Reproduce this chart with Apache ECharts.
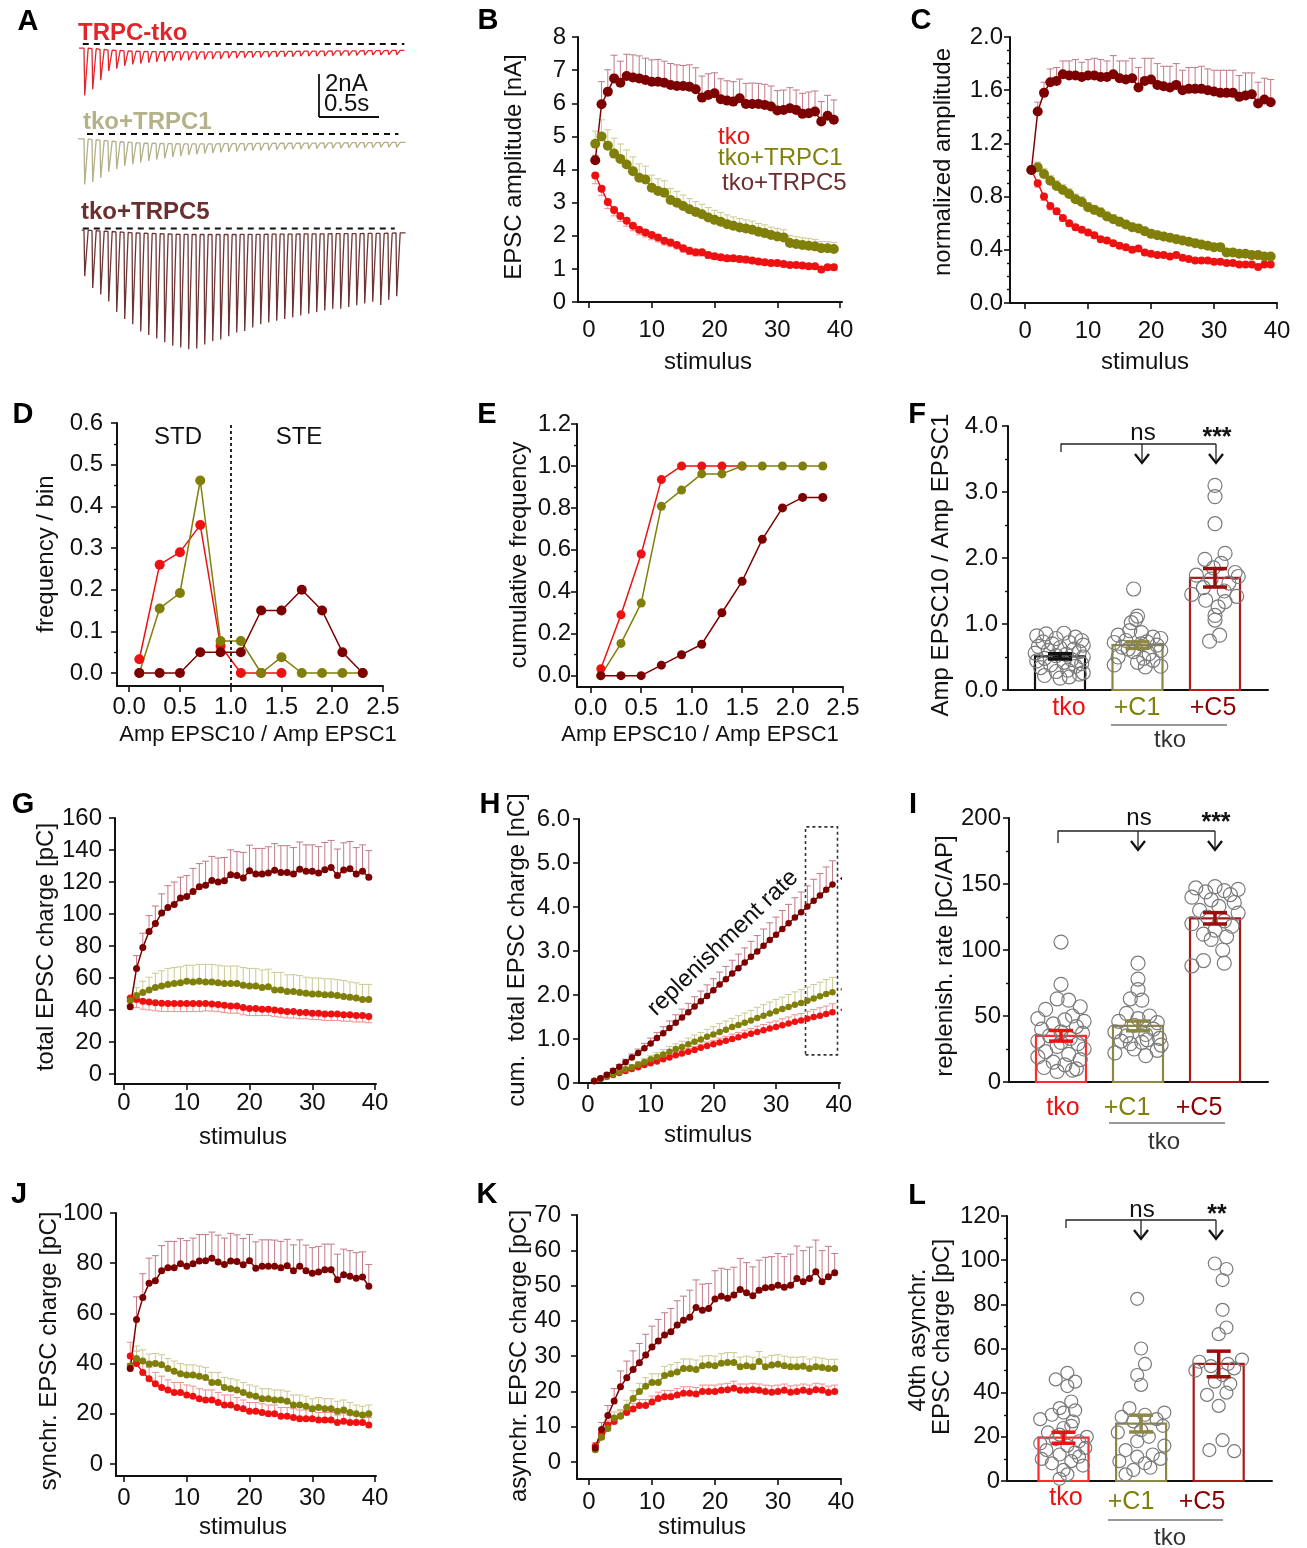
<!DOCTYPE html>
<html>
<head>
<meta charset="utf-8">
<script src="https://cdn.jsdelivr.net/npm/echarts@6/dist/echarts.min.js"></script>
<style>
html, body { margin: 0; padding: 0; background: #fff; }
#main { width: 1307px; height: 1548px; }
</style>
</head>
<body>
<div id="main"></div>
<script>
// stimulus numbers
const stimulus = [1,2,3,4,5,6,7,8,9,10,11,12,13,14,15,16,17,18,19,20,21,22,23,24,25,26,27,28,29,30,31,32,33,34,35,36,37,38,39];

// A: example traces, peak amplitude and baseline per stimulus [nA]
const aTkoAmp = [2.2,1.88,1.43,0.98,0.85,0.7,0.62,0.57,0.52,0.48,0.45,0.42,0.4,0.38,0.36,0.35,0.33,0.32,0.3,0.3,0.28,0.28,0.27,0.26,0.26,0.25,0.25,0.24,0.24,0.23,0.23,0.22,0.22,0.22,0.21,0.21,0.2,0.2,0.2,0.2];
const aTkoBase = [-0.19,-0.22,-0.25,-0.28,-0.3,-0.32,-0.33,-0.34,-0.35,-0.35,-0.36,-0.36,-0.37,-0.37,-0.37,-0.37,-0.37,-0.37,-0.36,-0.36,-0.36,-0.35,-0.35,-0.35,-0.34,-0.34,-0.34,-0.33,-0.33,-0.33,-0.33,-0.32,-0.32,-0.32,-0.32,-0.31,-0.31,-0.31,-0.3,-0.3];
const aC1Amp = [2.12,1.97,1.74,1.43,1.27,1.1,1.0,0.9,0.82,0.75,0.68,0.62,0.57,0.52,0.48,0.45,0.42,0.4,0.38,0.36,0.34,0.33,0.32,0.31,0.3,0.29,0.28,0.28,0.27,0.26,0.26,0.25,0.25,0.24,0.24,0.23,0.23,0.22,0.22,0.22];
const aC1Base = [-0.23,-0.26,-0.3,-0.33,-0.36,-0.38,-0.4,-0.42,-0.43,-0.44,-0.45,-0.45,-0.46,-0.46,-0.46,-0.46,-0.46,-0.45,-0.45,-0.45,-0.45,-0.44,-0.44,-0.44,-0.43,-0.43,-0.43,-0.42,-0.42,-0.42,-0.41,-0.41,-0.41,-0.4,-0.4,-0.4,-0.4,-0.39,-0.39,-0.39];
const aC5Amp = [2.14,2.67,2.95,3.26,3.72,4.03,4.26,4.57,4.73,4.88,5.04,5.19,5.27,5.35,5.3,5.12,4.96,4.88,4.73,4.57,4.5,4.34,4.19,4.11,4.03,3.95,3.88,3.8,3.72,3.64,3.57,3.49,3.49,3.41,3.33,3.26,3.18,3.33,3.1,2.95];
const aC5Base = [-0.08,-0.1,-0.12,-0.14,-0.16,-0.18,-0.2,-0.22,-0.23,-0.24,-0.25,-0.26,-0.27,-0.27,-0.28,-0.28,-0.28,-0.28,-0.28,-0.27,-0.27,-0.27,-0.27,-0.26,-0.26,-0.26,-0.26,-0.25,-0.25,-0.25,-0.25,-0.24,-0.24,-0.24,-0.24,-0.23,-0.23,-0.23,-0.22,-0.2];
const aTkoDash = [0.04, 2.72];
const aC1Dash = [0.075, 2.67];
const aC5Dash = [0.04, 2.64];
const aFirstStim = 0.05;      // s
const aStimInterval = 1 / 15; // s

// B: EPSC amplitude [nA]
const bTko = [3.82,3.42,3.02,2.78,2.6,2.45,2.3,2.18,2.1,2.02,1.95,1.85,1.8,1.72,1.62,1.55,1.5,1.5,1.42,1.38,1.35,1.32,1.32,1.3,1.28,1.25,1.22,1.2,1.18,1.18,1.15,1.12,1.12,1.1,1.08,1.08,0.98,1.05,1.05];
const bTkoErr = [0.25,0.2,0.2,0.18,0.17,0.16,0.15,0.15,0.14,0.14,0.14,0.13,0.13,0.12,0.12,0.12,0.11,0.11,0.11,0.1,0.1,0.1,0.1,0.1,0.1,0.09,0.09,0.09,0.09,0.09,0.09,0.08,0.08,0.08,0.08,0.08,0.08,0.08,0.08];
const bC1 = [4.78,5.0,4.72,4.48,4.32,4.15,3.95,3.75,3.7,3.45,3.35,3.3,3.08,3.0,2.9,2.8,2.72,2.65,2.55,2.48,2.42,2.35,2.3,2.25,2.22,2.18,2.12,2.08,2.02,1.98,1.95,1.78,1.75,1.72,1.7,1.68,1.62,1.62,1.6];
const bC1Err = [0.38,0.5,0.48,0.47,0.45,0.44,0.43,0.42,0.4,0.38,0.37,0.36,0.35,0.34,0.33,0.32,0.31,0.3,0.3,0.29,0.28,0.28,0.27,0.27,0.26,0.26,0.25,0.25,0.24,0.24,0.23,0.23,0.22,0.22,0.22,0.21,0.21,0.2,0.2];
const bC5 = [4.28,5.97,6.35,6.75,6.62,6.82,6.78,6.75,6.7,6.65,6.65,6.62,6.55,6.52,6.52,6.5,6.42,6.17,6.25,6.3,6.12,6.08,6.05,6.15,5.98,5.98,5.98,5.95,5.9,5.78,5.8,5.85,5.8,5.68,5.7,5.75,5.45,5.62,5.5];
const bC5Err = [0.15,0.68,0.66,0.7,0.65,0.66,0.68,0.68,0.66,0.66,0.67,0.65,0.65,0.64,0.62,0.66,0.65,0.65,0.64,0.62,0.62,0.6,0.6,0.58,0.62,0.63,0.62,0.62,0.62,0.6,0.6,0.62,0.6,0.62,0.64,0.62,0.6,0.62,0.6];

// C: normalized amplitude
const cTko = [1.0,0.9,0.8,0.73,0.69,0.64,0.6,0.57,0.55,0.53,0.51,0.48,0.47,0.45,0.43,0.42,0.4,0.41,0.38,0.37,0.36,0.36,0.35,0.36,0.34,0.33,0.32,0.32,0.32,0.31,0.31,0.3,0.3,0.29,0.29,0.29,0.27,0.29,0.29];
const cTkoErr = [0,0.03,0.03,0.03,0.025,0.025,0.025,0.02,0.02,0.02,0.02,0.02,0.02,0.02,0.02,0.02,0.02,0.02,0.02,0.02,0.015,0.015,0.015,0.015,0.015,0.015,0.015,0.015,0.015,0.015,0.015,0.015,0.015,0.015,0.015,0.015,0.015,0.015,0.015];
const cC1 = [1.0,1.02,0.97,0.92,0.88,0.85,0.82,0.78,0.76,0.72,0.7,0.68,0.65,0.63,0.61,0.59,0.57,0.56,0.54,0.52,0.51,0.5,0.49,0.48,0.47,0.46,0.45,0.44,0.43,0.42,0.42,0.38,0.38,0.37,0.37,0.36,0.36,0.35,0.35];
const cC1Err = [0,0.04,0.04,0.04,0.04,0.04,0.04,0.04,0.04,0.035,0.035,0.035,0.035,0.035,0.035,0.03,0.03,0.03,0.03,0.03,0.03,0.03,0.03,0.03,0.025,0.025,0.025,0.025,0.025,0.025,0.025,0.025,0.025,0.025,0.025,0.025,0.02,0.02,0.02];
const cC5 = [1.0,1.44,1.58,1.66,1.67,1.72,1.71,1.71,1.7,1.71,1.71,1.7,1.7,1.72,1.69,1.68,1.69,1.62,1.67,1.68,1.64,1.63,1.62,1.64,1.6,1.61,1.61,1.61,1.6,1.59,1.58,1.58,1.58,1.55,1.56,1.57,1.5,1.53,1.51];
const cC5Err = [0,0.07,0.08,0.1,0.1,0.1,0.11,0.12,0.11,0.12,0.13,0.13,0.12,0.14,0.13,0.14,0.15,0.15,0.17,0.16,0.16,0.15,0.16,0.16,0.15,0.16,0.16,0.17,0.16,0.16,0.17,0.17,0.17,0.16,0.17,0.16,0.16,0.16,0.17];

// D, E: histogram and cumulative frequency of Amp EPSC10 / Amp EPSC1
const binsTko = [0.1,0.3,0.5,0.7,0.9,1.1,1.3,1.5];
const binsAll = [0.1,0.3,0.5,0.7,0.9,1.1,1.3,1.5,1.7,1.9,2.1,2.3];
const dTko = [0.033,0.26,0.29,0.355,0.065,0,0,0];
const dC1 = [0,0.155,0.192,0.462,0.077,0.077,0,0.038,0,0,0,0];
const dC5 = [0,0,0,0.05,0.05,0.05,0.15,0.15,0.2,0.15,0.05,0];
const dDivider = 1.0;
const dMinorTicks = [0.05,0.15,0.25,0.35,0.45,0.55];
const eTko = [0.033,0.29,0.58,0.935,1,1,1,1];
const eC1 = [0,0.154,0.346,0.808,0.885,0.962,0.962,1,1,1,1,1];
const eC5 = [0,0,0,0.05,0.1,0.15,0.3,0.45,0.65,0.8,0.85,0.85];
const eMinorTicks = [0.1,0.3,0.5,0.7,0.9,1.1];

// F: Amp EPSC10 / Amp EPSC1 per cell
const fMean = [0.51, 0.68, 1.70];
const fSem = [0.04, 0.05, 0.14];
const fTkoVals = [0.85,0.86,0.82,0.8,0.78,0.75,0.73,0.72,0.7,0.68,0.66,0.64,0.62,0.6,0.58,0.56,0.54,0.52,0.5,0.48,0.46,0.44,0.42,0.4,0.38,0.36,0.34,0.3,0.28,0.26,0.22,0.2,0.18,0.24];
const fTkoJit = [-0.18,0.05,-0.3,0.2,-0.05,0.28,-0.22,0.12,-0.1,0.3,-0.28,0.0,0.18,-0.15,0.25,-0.32,0.08,-0.05,0.3,-0.2,0.15,-0.3,0.05,0.28,-0.12,0.2,-0.25,0.1,-0.05,0.3,-0.2,0.12,0.0,0.25];
const fC1Vals = [1.53,1.12,1.07,1.02,0.9,0.87,0.83,0.8,0.78,0.75,0.73,0.72,0.7,0.68,0.65,0.6,0.58,0.55,0.5,0.45,0.42,0.38,0.36,0.35,0.62,0.48];
const fC1Jit = [-0.05,0.0,-0.02,-0.08,-0.1,0.05,-0.25,0.2,0.3,-0.15,0.12,-0.3,0.05,0.25,-0.2,0.3,-0.05,0.15,-0.25,0.2,0.0,-0.3,0.3,0.1,-0.12,0.08];
const fC5Vals = [3.1,2.93,2.52,2.07,1.98,1.92,1.78,1.74,1.72,1.68,1.62,1.55,1.5,1.45,1.36,1.34,1.26,1.13,1.06,0.83,0.74,1.85,1.42];
const fC5Jit = [0.0,0.0,0.0,0.13,-0.13,0.08,0.26,-0.24,0.3,-0.05,0.18,-0.15,0.12,-0.3,-0.12,0.13,0.04,0.0,0.0,0.06,-0.07,-0.02,0.28];

// G: total EPSC charge [pC]
const gTko = [47.5,46.5,45.5,45,44.5,44.2,44,44,44,44,44,44,44,43.8,43.5,43,42.5,42.5,41.5,41,41,40.5,40.5,40,39.5,39,39,38.5,38.5,38,38,37.5,37.5,37.5,37,37,36.5,36.5,36];
const gTkoErr = [2,5,5,5,5,5,5,5,5,5,5,5,4.5,4.5,4.5,4.5,4.5,4.5,4.5,4.5,4.5,4,4,4,4,4,4,4,4,4,4,4,4,4,4,4,4,4,4];
const gC1 = [46,49,51,52.5,54,55,56,56.5,57,58,57.5,58,57.5,57.5,57,56.5,56.5,56.5,55.5,55,55,54,54.5,52.5,52.5,51.5,51.5,51,50.5,50,50,49.5,49.5,49,48.5,48,47.5,46.5,46.5];
const gC1Err = [2,5,7,8,9,9.5,10,10,10,10,10.5,10.5,11,11,11,11,11,11,11,11,11,11,11,11,11,10.5,10.5,10.5,10,10,10,10,10,10,10,9.5,9.5,9.5,9.5];
const gC5 = [42,66,79,89,94,100.6,104,106,110,111,114,117,118,121,120,120.8,124.6,124,122.5,127,125,125,125.6,127.3,126,126,125,128,126.7,126.7,125.6,127.7,129,124,127.5,128.3,125,126.7,123];
const gC5Err = [1,8,9,10,11,12,13.7,14,13,13,14.5,14.5,15,15,15,14.5,15.5,15,16,16,16,16,16.4,16.7,16.7,16.7,16.5,17,16.5,16.5,16.5,17,17,16.6,17,17,16.5,16.5,16.6];

// H: cumulative total EPSC charge [nC]
const hTko = [0.05,0.09,0.14,0.18,0.23,0.27,0.32,0.36,0.41,0.45,0.49,0.54,0.58,0.63,0.67,0.71,0.75,0.8,0.84,0.88,0.92,0.96,1.0,1.04,1.08,1.12,1.16,1.2,1.24,1.27,1.31,1.35,1.39,1.42,1.46,1.5,1.53,1.57,1.61];
const hTkoErr = [0.01,0.01,0.02,0.02,0.03,0.03,0.03,0.04,0.04,0.05,0.05,0.06,0.06,0.07,0.07,0.08,0.08,0.08,0.09,0.09,0.1,0.1,0.11,0.11,0.12,0.12,0.13,0.13,0.14,0.14,0.15,0.15,0.16,0.16,0.17,0.17,0.18,0.18,0.19];
const hC1 = [0.05,0.1,0.15,0.2,0.25,0.31,0.36,0.42,0.48,0.54,0.59,0.65,0.71,0.77,0.82,0.88,0.94,0.99,1.05,1.1,1.16,1.21,1.27,1.32,1.37,1.42,1.48,1.53,1.58,1.63,1.68,1.73,1.78,1.82,1.87,1.92,1.97,2.02,2.06];
const hC1Err = [0.01,0.02,0.03,0.04,0.04,0.05,0.06,0.07,0.08,0.09,0.1,0.11,0.12,0.12,0.13,0.14,0.15,0.16,0.17,0.18,0.19,0.2,0.2,0.21,0.22,0.23,0.24,0.25,0.26,0.27,0.27,0.28,0.29,0.3,0.31,0.32,0.32,0.33,0.34];
const hC5 = [0.04,0.11,0.19,0.28,0.37,0.47,0.58,0.68,0.79,0.9,1.02,1.13,1.25,1.37,1.49,1.61,1.74,1.86,1.98,2.11,2.24,2.36,2.49,2.61,2.74,2.87,2.99,3.12,3.25,3.37,3.5,3.63,3.76,3.88,4.01,4.14,4.26,4.39,4.51];
const hC5Err = [0.01,0.02,0.03,0.04,0.05,0.07,0.08,0.09,0.11,0.12,0.13,0.15,0.16,0.18,0.19,0.2,0.22,0.23,0.25,0.26,0.28,0.29,0.3,0.32,0.33,0.35,0.36,0.38,0.39,0.4,0.42,0.43,0.45,0.46,0.47,0.49,0.5,0.52,0.54];
const hTkoFit = [[40.3,1.66],[43.7,1.8]];
const hC1Fit = [[40.3,2.12],[43.9,2.33]];
const hC5Fit = [[40.3,4.63],[43.2,5.0]];
const hBox = [34.7, 0.64, 39.8, 5.82];

// I: replenishment rate [pC/AP]
const iMean = [35, 42.5, 124];
const iSem = [4, 3.7, 4.3];
const iTkoVals = [106,74,63,62,57,55,50,48,47,46,44,42,40,38,37,35,33,31,29,27,25,23,21,19,17,15,13,11,9,8,10,30];
const iTkoJit = [0.0,0.0,-0.05,0.1,0.25,-0.2,0.15,-0.3,0.05,0.3,-0.1,0.2,-0.25,0.0,0.28,-0.15,0.12,-0.3,0.22,-0.05,0.3,-0.2,0.1,-0.3,0.25,-0.1,0.05,-0.22,0.15,-0.05,0.2,0.0];
const iC1Vals = [90,78,70,63,62,52,50,48,46,45,43,40,38,36,35,33,31,30,28,25,22,20,24,29,32];
const iC1Jit = [0.0,0.0,0.0,-0.1,0.05,-0.15,0.15,0.0,-0.25,0.25,-0.05,0.2,-0.3,0.1,-0.15,0.28,-0.22,0.05,0.3,-0.05,-0.3,0.1,0.25,-0.1,0.12];
const iC5Vals = [148,147,146,144,145,142,140,138,136,133,130,128,125,122,120,118,115,112,110,108,100,92,90,88];
const iC5Jit = [0.0,-0.25,0.3,-0.12,0.12,0.2,-0.3,-0.05,0.25,0.05,-0.2,0.3,-0.1,0.12,-0.3,0.22,0.0,-0.15,0.15,-0.05,0.1,-0.15,0.12,-0.3];

// J: synchronous EPSC charge [pC]
const jTko = [43,40,36.5,34,32,30.5,29.5,28.5,28.5,27.5,27,26,25.5,25.5,24.5,23.5,23.5,22.5,22,21,21,20.5,20,20,19,19,18.5,18,18,18,17.5,17.5,17.5,16.5,17,16.5,16.5,16.5,15.5];
const jTkoErr = [5.5,5,5,4.5,4.5,4.5,4,4,4,4,4,4,4,4,4,4,4,4,3.5,3.5,3.5,3.5,3.5,3.5,3.5,3.5,3.5,3.5,3.5,3,3,3,3,3,3,3,3,3,3];
const jC1 = [39,42,41,39.8,40,39.5,38,37,36,35.5,35.5,35,34.5,32.5,32.5,30.5,30,29.5,28.5,27.5,27,26,26,25.5,25.5,25,23.5,23.5,23,22,22.5,22,22,21,21.5,20.5,20,19.5,20];
const jC1Err = [4,5,4.5,4,4,4,4,4,4,4,4,4,4,4,4,4,4,4,4,4,4,4,4,4,4,4,4,4,4,4,4,4,4,4,4,4,3.5,3.5,3.5];
const jC5 = [38,57.6,66.3,72,73,77,78.2,78.2,79.8,78.8,79.8,80.9,81,82,80.5,79.5,80.9,80.7,79.4,81,78,78.8,78.8,78.8,78.2,79,77,78.8,77,76,76.5,77.4,77.4,73.4,75.4,74.8,74,74.5,70.8];
const jC5Err = [2,9,9.5,10,10,10,10.5,10.5,10,10.2,10.2,10.5,10.4,10.4,10.7,10.5,11,10.6,10.5,10.4,10.5,10.5,10.5,10.4,10.5,10.5,10.3,10.5,10.2,10.2,10.2,10.2,10.2,10.2,10.2,10.2,10.2,10,8.7];

// K: asynchronous EPSC charge [pC]
const kTko = [4.5,8,10.5,11.5,13,14,15,16,16,17,18,18.5,18.5,19,19.5,19.5,19.3,20,20,20,20.3,20.5,20.9,20.3,20.3,20.5,20.3,20,19.8,20,20.3,19.8,20,20.3,20,20.5,20.3,19.7,20];
const kTkoErr = [1,1.2,1.4,1.5,1.5,1.6,1.6,1.7,1.7,1.7,1.8,1.8,1.8,1.8,1.8,1.8,1.8,1.8,1.8,1.8,1.8,1.8,2,1.8,1.8,1.8,1.8,1.8,1.8,1.8,1.8,1.8,1.8,1.8,1.8,1.8,1.8,1.8,1.8];
const kC1 = [3.5,7,9.5,12.5,13,15.5,18,20,21.5,22.5,22.5,24.5,25,25.5,26.5,26.5,26.2,27.3,27.5,27.3,28,28.2,28.2,27,27.3,27,28.5,27,27.5,27.7,27.3,27,27,27.1,26.5,27,26.8,26.5,26.5];
const kC1Err = [0.8,1.3,1.5,1.7,1.9,2,2.2,2.3,2.4,2.5,2.5,2.6,2.6,2.7,2.7,2.7,2.7,2.7,2.7,2.7,2.7,2.8,2.8,2.7,2.7,2.7,2.8,2.7,2.7,2.7,2.7,2.7,2.7,2.7,2.7,2.7,2.6,2.6,2.6];
const kC5 = [4,9.2,13.2,17.3,21.3,23.9,26.2,28.1,30.3,32.6,34.3,36,36.9,38.8,40.2,41,43.8,43,43.5,46.2,47,46.4,47.3,48.9,48,47.1,48.7,49.4,49.5,50.1,49.5,50.1,52,51.1,52,53.9,51.1,52.5,53.6];
const kC5Err = [0.8,2,2.8,3.5,4.5,4.7,5.3,5.5,5.9,5.9,6.1,6.3,6.6,6.9,6.8,7.7,7.8,7.4,7.1,8,7.9,8.2,7.9,8.8,8.5,8.2,8.5,8.6,8.7,9,8.7,8.8,9.2,8.8,8.9,9,8.8,8.6,5.5];

// L: 40th asynchronous EPSC charge [pC]
const lMean = [19.6, 26, 53];
const lSem = [2.5, 3.8, 5.8];
const lTkoVals = [49,46,45,43,36,33,32,31,30,28,25,22,20,19,18,17,16,15,14,13,12,11,10,9,8,7,5,3,1,24,27,21];
const lTkoJit = [0.05,-0.1,0.15,0.05,0.1,-0.05,0.15,0.0,-0.15,-0.3,0.1,-0.2,0.3,-0.1,0.2,-0.3,0.05,0.28,-0.22,0.15,-0.05,0.2,-0.28,0.1,-0.15,0.25,0.0,0.05,-0.05,0.0,0.12,-0.05];
const lC1Vals = [82.5,60,53,48,43.5,33,31,30,29,28,27,25,22,20,18,16,14,12,11,10,9,8,6,5,3,23];
const lC1Jit = [-0.05,0.0,0.05,-0.05,0.0,-0.15,0.3,0.05,-0.25,0.2,-0.1,0.28,-0.3,0.1,-0.05,0.3,-0.2,0.15,-0.05,0.25,-0.28,0.05,0.12,-0.1,-0.2,0.0];
const lC5Vals = [98.5,96,91,77.5,69.5,66.5,55,54,53,52,51,50,48,45,40,39,34,18.5,14,13.5,44];
const lC5Jit = [-0.05,0.1,0.05,0.05,0.1,0.0,0.3,-0.25,0.12,-0.1,0.2,-0.3,0.05,-0.05,0.1,-0.15,0.0,0.05,-0.12,0.2,0.15];

const stimTicks = [0, 10, 20, 30, 40];
const ratioTicks = [0, 0.5, 1.0, 1.5, 2.0, 2.5];

const FONT = "'Liberation Sans', Arial, Helvetica, sans-serif";
const INK = '#111';
const RED = '#ee1111', OLIVE = '#7f7f0a', DARK = '#7d0000';
const RED_E = '#f29090', OLIVE_E = '#cbcb92', DARK_E = '#c27a86';
const TICK_FS = 24, TITLE_FS = 24;

const grids = [], xAxes = [], yAxes = [], series = [], graphics = [];

function addGrid(l, t, w, h) {
  grids.push({ left: l, top: t, width: w, height: h, outerBoundsMode: 'none', containLabel: false });
  return grids.length - 1;
}
function hiddenAxes(gi, xmin, xmax, ymin, ymax) {
  xAxes.push({ type: 'value', gridIndex: gi, min: xmin, max: xmax, show: false });
  yAxes.push({ type: 'value', gridIndex: gi, min: ymin, max: ymax, show: false });
}
function lbl(margin, fmt, custom) {
  const o = { show: true, color: INK, fontSize: TICK_FS, fontFamily: FONT, margin: margin, formatter: fmt };
  if (custom) o.customValues = custom;
  return o;
}
function xAx(gi, min, max, ticks, fmt, margin) {
  xAxes.push({
    type: 'value', gridIndex: gi, min: min, max: max,
    splitLine: { show: false },
    axisLine: { show: true, onZero: false, lineStyle: { color: INK, width: 2 } },
    axisTick: ticks ? { show: true, length: 6, customValues: ticks, lineStyle: { color: INK, width: 1.6 } } : { show: false },
    axisLabel: ticks ? lbl(margin, fmt, ticks) : { show: false }
  });
}
// y axis counted from 0 with a fixed interval
function yAx(gi, max, interval, fmt, margin, minorSplit) {
  yAxes.push({
    type: 'value', gridIndex: gi, position: 'left', min: 0, max: max, interval: interval,
    splitLine: { show: false },
    axisLine: { show: true, onZero: false, lineStyle: { color: INK, width: 2 } },
    axisTick: { show: true, length: 6, lineStyle: { color: INK, width: 1.6 } },
    minorTick: { show: !!minorSplit, splitNumber: minorSplit || 5, length: 3, lineStyle: { color: INK, width: 1.4 } },
    minorSplitLine: { show: false },
    axisLabel: lbl(margin, fmt)
  });
}
// y axis whose line runs a little below 0
function yAxLow(gi, min, max, ticks, fmt, margin) {
  yAxes.push({
    type: 'value', gridIndex: gi, position: 'left', min: min, max: max,
    splitLine: { show: false },
    axisLine: { show: true, onZero: false, lineStyle: { color: INK, width: 2 } },
    axisTick: { show: true, length: 6, customValues: ticks, lineStyle: { color: INK, width: 1.6 } },
    axisLabel: lbl(margin, fmt, ticks)
  });
}
const f1 = v => v.toFixed(1);
const f0 = v => String(Math.round(v));

function lineS(gi, xs, vals, color, size, lw) {
  return {
    type: 'line', xAxisIndex: gi, yAxisIndex: gi, z: 3, silent: true,
    data: vals.map((v, i) => [xs[i], v]),
    symbol: 'circle', symbolSize: size, showAllSymbol: true,
    itemStyle: { color: color, borderWidth: 0 },
    lineStyle: { color: color, width: lw || 1.5 }
  };
}
function errS(gi, vals, errs, dir, color) {
  return {
    type: 'custom', xAxisIndex: gi, yAxisIndex: gi, z: 2, silent: true,
    data: vals.map((v, i) => [stimulus[i], v, v + dir * errs[i]]),
    renderItem: function (params, api) {
      const a = api.coord([api.value(0), api.value(1)]);
      const b = api.coord([api.value(0), api.value(2)]);
      const st = { stroke: color, lineWidth: 1 };
      return { type: 'group', children: [
        { type: 'line', shape: { x1: a[0], y1: a[1], x2: b[0], y2: b[1] }, style: st },
        { type: 'line', shape: { x1: b[0] - 3.5, y1: b[1], x2: b[0] + 3.5, y2: b[1] }, style: st }
      ] };
    }
  };
}
function barsS(gi, means, sems, borders, errColors) {
  series.push({
    type: 'custom', xAxisIndex: gi, yAxisIndex: gi, z: 1, silent: true,
    data: means.map((m, i) => [i + 1, m]),
    renderItem: function (params, api) {
      const top = api.coord([api.value(0), api.value(1)]);
      const base = api.coord([api.value(0), 0]);
      return { type: 'rect', shape: { x: top[0] - 25, y: top[1], width: 50, height: base[1] - top[1] },
        style: { fill: 'rgba(0,0,0,0)', stroke: borders[params.dataIndex], lineWidth: 2.2 } };
    }
  });
  series.push({
    type: 'custom', xAxisIndex: gi, yAxisIndex: gi, z: 4, silent: true,
    data: means.map((m, i) => [i + 1, m - sems[i], m + sems[i]]),
    renderItem: function (params, api) {
      const lo = api.coord([api.value(0), api.value(1)]);
      const hi = api.coord([api.value(0), api.value(2)]);
      const st = { stroke: errColors[params.dataIndex], lineWidth: 3.5 };
      return { type: 'group', children: [
        { type: 'line', shape: { x1: lo[0], y1: lo[1], x2: hi[0], y2: hi[1] }, style: st },
        { type: 'line', shape: { x1: lo[0] - 12, y1: lo[1], x2: lo[0] + 12, y2: lo[1] }, style: st },
        { type: 'line', shape: { x1: hi[0] - 12, y1: hi[1], x2: hi[0] + 12, y2: hi[1] }, style: st }
      ] };
    }
  });
}
function dotsS(gi, pos, vals, jit, size) {
  series.push({
    type: 'scatter', xAxisIndex: gi, yAxisIndex: gi, z: 2, silent: true,
    symbol: 'circle', symbolSize: size,
    data: vals.map((v, i) => [pos + jit[i], v]),
    itemStyle: { color: 'rgba(0,0,0,0)', borderColor: '#7a7a7a', borderWidth: 1.2, opacity: 1 }
  });
}
function traceData(amp, base, tStart, tEnd) {
  const pts = [[tStart, base[0]]];
  amp.forEach((a, i) => {
    const t = aFirstStim + i * aStimInterval;
    pts.push([t, base[i]], [t + 0.006, base[i] - a], [t + 0.035, base[i]]);
  });
  pts.push([tEnd, base[base.length - 1]]);
  return pts;
}
function dashS(gi, range) {
  return { type: 'line', xAxisIndex: gi, yAxisIndex: gi, silent: true, symbol: 'none', z: 2,
    data: [[range[0], 0], [range[1], 0]], lineStyle: { color: INK, width: 2.2, type: [6, 5] } };
}

// ---- graphics helpers
function text(x, y, s, o) {
  const st = Object.assign({ text: s, fill: INK, fontSize: TITLE_FS, fontFamily: FONT, align: 'center', verticalAlign: 'middle' }, o || {});
  delete st.rot;
  const el = { type: 'text', x: x, y: y, z: 100, style: st };
  if (o && o.rot) el.rotation = o.rot;
  return el;
}
function yTitle(x, y, s) { return text(x, y, s, { rot: Math.PI / 2 }); }
function letter(x, y, s) { return text(x, y, s, { fontSize: 29, fontWeight: 'bold', fill: '#000' }); }
function seg(x1, y1, x2, y2, color, w) {
  return { type: 'line', z: 100, shape: { x1: x1, y1: y1, x2: x2, y2: y2 }, style: { stroke: color || INK, lineWidth: w || 1.3 } };
}
function sig(xL, targets, y, tickEnd, arrowEnd, labels, labelY) {
  graphics.push(seg(xL, y, targets[1], y, '#222', 1.3));
  graphics.push(seg(xL, y - 0.6, xL, tickEnd, '#222', 1.3));
  targets.forEach((x, i) => {
    graphics.push(seg(x, y, x, arrowEnd, '#222', 1.3));
    graphics.push({ type: 'polyline', z: 100, shape: { points: [[x - 7, arrowEnd - 9], [x, arrowEnd], [x + 7, arrowEnd - 9]] },
      style: { stroke: '#111', lineWidth: 2.3, fill: null } });
    graphics.push(text(x + 1, labelY[i], labels[i], { fontSize: i === 0 ? 24 : 25, fontWeight: i === 0 ? 'normal' : 'bold' }));
  });
}
function groupLabels(xs, ys, lineX1, lineX2, lineY, tkoX, tkoY) {
  graphics.push(text(xs[0], ys[0], 'tko', { fill: RED, fontSize: 25 }));
  graphics.push(text(xs[1], ys[1], '+C1', { fill: OLIVE, fontSize: 25 }));
  graphics.push(text(xs[2], ys[2], '+C5', { fill: '#8b0000', fontSize: 25 }));
  graphics.push(seg(lineX1, lineY, lineX2, lineY, '#333', 1.2));
  graphics.push(text(tkoX, tkoY, 'tko', { fill: '#333', fontSize: 24 }));
}

// ---- A: traces
const gA1 = addGrid(78, 40, 330, 64);   hiddenAxes(gA1, 0, 2.75, -2.79, 0.186);
const gA2 = addGrid(78, 130, 330, 64);  hiddenAxes(gA2, 0, 2.75, -2.79, 0.186);
const gA3 = addGrid(78, 224.5, 330, 128); hiddenAxes(gA3, 0, 2.75, -5.77, 0.186);
series.push({ type: 'line', xAxisIndex: gA1, yAxisIndex: gA1, silent: true, symbol: 'none', z: 3,
  data: traceData(aTkoAmp, aTkoBase, 0.008, 2.72), lineStyle: { color: '#e2262c', width: 1.3 } });
series.push({ type: 'line', xAxisIndex: gA2, yAxisIndex: gA2, silent: true, symbol: 'none', z: 3,
  data: traceData(aC1Amp, aC1Base, 0.0, 2.73), lineStyle: { color: '#b3b08a', width: 1.3 } });
series.push({ type: 'line', xAxisIndex: gA3, yAxisIndex: gA3, silent: true, symbol: 'none', z: 3,
  data: traceData(aC5Amp, aC5Base, 0.03, 2.73), lineStyle: { color: '#6e3535', width: 1.3 } });
series.push(dashS(gA1, aTkoDash), dashS(gA2, aC1Dash), dashS(gA3, aC5Dash));
graphics.push(text(78, 33, 'TRPC-tko', { align: 'left', fill: '#e0262b', fontSize: 24, fontWeight: 'bold' }));
graphics.push(text(83, 122, 'tko+TRPC1', { align: 'left', fill: '#b5b189', fontSize: 24, fontWeight: 'bold' }));
graphics.push(text(81, 212, 'tko+TRPC5', { align: 'left', fill: '#6b2f2f', fontSize: 24, fontWeight: 'bold' }));
graphics.push(seg(319, 74, 319, 117, INK, 1.8), seg(319, 117, 379, 117, INK, 1.8));
graphics.push(text(325, 84, '2nA', { align: 'left' }), text(324, 104, '0.5s', { align: 'left' }));

// ---- B
const gB = addGrid(578, 37, 264, 265);
xAx(gB, -1.75, 40.3, stimTicks, f0, 16);
yAx(gB, 8, 1, f0, 12);
series.push(errS(gB, bTko, bTkoErr, -1, RED_E), errS(gB, bC1, bC1Err, 1, OLIVE_E), errS(gB, bC5, bC5Err, 1, DARK_E));
series.push(lineS(gB, stimulus, bTko, RED, 8), lineS(gB, stimulus, bC1, OLIVE, 10), lineS(gB, stimulus, bC5, DARK, 10));
graphics.push(text(718, 137, 'tko', { align: 'left', fill: RED }));
graphics.push(text(718, 158, 'tko+TRPC1', { align: 'left', fill: OLIVE }));
graphics.push(text(722, 183, 'tko+TRPC5', { align: 'left', fill: '#6b2f2f' }));
graphics.push(yTitle(514, 167, 'EPSC amplitude [nA]'), text(708, 362, 'stimulus'));

// ---- C
const gC = addGrid(1010, 37, 267, 266);
xAx(gC, -2.4, 40, stimTicks, f0, 16);
yAx(gC, 2, 0.4, f1, 7, 4);
series.push(errS(gC, cTko, cTkoErr, -1, RED_E), errS(gC, cC1, cC1Err, 1, OLIVE_E), errS(gC, cC5, cC5Err, 1, DARK_E));
series.push(lineS(gC, stimulus, cTko, RED, 8), lineS(gC, stimulus, cC1, OLIVE, 10), lineS(gC, stimulus, cC5, DARK, 10));
graphics.push(yTitle(943, 162, 'normalized amplitude'), text(1145, 362, 'stimulus'));

// ---- D
const gD = addGrid(117, 423, 266, 263);
xAx(gD, -0.12, 2.5, ratioTicks, f1, 9);
yAxLow(gD, -0.0312, 0.6, [0, 0.1, 0.2, 0.3, 0.4, 0.5, 0.6], f1, 14);
series.push(lineS(gD, binsTko, dTko, RED, 10), lineS(gD, binsAll, dC1, OLIVE, 10), lineS(gD, binsAll, dC5, DARK, 10));
series[series.length - 1].markLine = { silent: true, symbol: 'none', label: { show: false },
  lineStyle: { color: INK, type: [3, 3], width: 1.8 }, data: [{ xAxis: dDivider }] };
graphics.push(text(178, 437, 'STD'), text(299, 437, 'STE'));
graphics.push(yTitle(46, 554, 'frequency / bin'), text(258, 735, 'Amp EPSC10 / Amp EPSC1', { fontSize: 22 }));

// ---- E
const gE = addGrid(577, 424, 266, 263);
xAx(gE, -0.136, 2.5, ratioTicks, f1, 9);
yAxLow(gE, -0.054, 1.2, [0, 0.2, 0.4, 0.6, 0.8, 1.0, 1.2], f1, 6);
series.push(lineS(gE, binsTko, eTko, RED, 9), lineS(gE, binsAll, eC1, OLIVE, 9), lineS(gE, binsAll, eC5, DARK, 9));
graphics.push(yTitle(519, 555, 'cumulative frequency'), text(700, 735, 'Amp EPSC10 / Amp EPSC1', { fontSize: 22 }));

// ---- F
const gF = addGrid(1008, 426, 260, 264);
xAx(gF, 0.329, 3.684, null);
yAx(gF, 4, 1, f1, 10, 2);
barsS(gF, fMean, fSem, ['#111', '#8c8744', '#b01c1c'], ['#111', '#8c8744', '#9b0c0c']);
dotsS(gF, 1, fTkoVals, fTkoJit, 14); dotsS(gF, 2, fC1Vals, fC1Jit, 14); dotsS(gF, 3, fC5Vals, fC5Jit, 14);
sig(1061, [1142, 1216], 444, 452, 463, ['ns', '***'], [433, 438]);
groupLabels([1069, 1137, 1213], [708, 708, 708], 1111, 1227, 725, 1170, 740);
graphics.push(yTitle(941, 565, 'Amp EPSC10 / Amp EPSC1'));

// ---- G
const gG = addGrid(115, 818, 261, 266);
xAx(gG, -1.43, 40.15, stimTicks, f0, 7);
yAxLow(gG, -6.25, 160, [0, 20, 40, 60, 80, 100, 120, 140, 160], f0, 13);
series.push(errS(gG, gTko, gTkoErr, -1, RED_E), errS(gG, gC1, gC1Err, 1, OLIVE_E), errS(gG, gC5, gC5Err, 1, DARK_E));
series.push(lineS(gG, stimulus, gTko, RED, 7), lineS(gG, stimulus, gC1, OLIVE, 7), lineS(gG, stimulus, gC5, DARK, 7));
graphics.push(yTitle(46, 947, 'total EPSC charge [pC]'), text(243, 1137, 'stimulus'));

// ---- H
const gH = addGrid(579, 819, 261, 264);
xAx(gH, -1.43, 40.2, stimTicks, f0, 10);
yAx(gH, 6, 1, v => (v === 0 ? '0' : v.toFixed(1)), 9);
series.push(errS(gH, hTko, hTkoErr, 1, RED_E), errS(gH, hC1, hC1Err, 1, OLIVE_E), errS(gH, hC5, hC5Err, 1, DARK_E));
series.push(lineS(gH, stimulus, hTko, RED, 6.5), lineS(gH, stimulus, hC1, OLIVE, 6.5), lineS(gH, stimulus, hC5, DARK, 6.5));
[[hTkoFit, RED], [hC1Fit, OLIVE], [hC5Fit, DARK]].forEach(p => {
  series.push({ type: 'line', xAxisIndex: gH, yAxisIndex: gH, silent: true, symbol: 'none', clip: false, z: 3,
    data: p[0], lineStyle: { color: p[1], width: 2.2, type: [6, 5] } });
});
series[series.length - 1].markArea = { silent: true,
  itemStyle: { color: 'rgba(0,0,0,0)', borderColor: '#333', borderWidth: 1.6, borderType: [3, 3] },
  data: [[{ coord: [hBox[0], hBox[1]] }, { coord: [hBox[2], hBox[3]] }]] };
graphics.push(text(723, 943, 'replenishment rate', { rot: 44 * Math.PI / 180, fontSize: 24 }));
graphics.push(yTitle(517, 950, 'cum.  total EPSC charge [nC]'), text(708, 1135, 'stimulus'));

// ---- I
const gI = addGrid(1009, 818, 259, 264);
xAx(gI, 0.325, 3.688, null);
yAx(gI, 200, 50, f0, 8, 2);
barsS(gI, iMean, iSem, ['#ff2a2a', '#8c8744', '#a81818'], [RED, '#8c8744', '#9b0c0c']);
dotsS(gI, 1, iTkoVals, iTkoJit, 14); dotsS(gI, 2, iC1Vals, iC1Jit, 14); dotsS(gI, 3, iC5Vals, iC5Jit, 14);
sig(1058, [1138, 1215], 831, 843, 850, ['ns', '***'], [818, 823]);
groupLabels([1063, 1127, 1199], [1108, 1108, 1108], 1109, 1225, 1123, 1164, 1142);
graphics.push(yTitle(945, 956, 'replenish. rate [pC/AP]'));

// ---- J
const gJ = addGrid(116, 1213, 260, 263);
xAx(gJ, -1.27, 40.15, stimTicks, f0, 10);
yAxLow(gJ, -4.78, 100, [0, 20, 40, 60, 80, 100], f0, 13);
series.push(errS(gJ, jTko, jTkoErr, 1, RED_E), errS(gJ, jC1, jC1Err, 1, OLIVE_E), errS(gJ, jC5, jC5Err, 1, DARK_E));
series.push(lineS(gJ, stimulus, jTko, RED, 7), lineS(gJ, stimulus, jC1, OLIVE, 7), lineS(gJ, stimulus, jC5, DARK, 7));
graphics.push(yTitle(49, 1351, 'synchr. EPSC charge [pC]'), text(243, 1527, 'stimulus'));

// ---- K
const gK = addGrid(577, 1215, 264, 264);
xAx(gK, -1.9, 40, stimTicks, f0, 11);
yAxLow(gK, -4.82, 70, [0, 10, 20, 30, 40, 50, 60, 70], f0, 16);
series.push(errS(gK, kTko, kTkoErr, 1, RED_E), errS(gK, kC1, kC1Err, 1, OLIVE_E), errS(gK, kC5, kC5Err, 1, DARK_E));
series.push(lineS(gK, stimulus, kTko, RED, 7), lineS(gK, stimulus, kC1, OLIVE, 7), lineS(gK, stimulus, kC5, DARK, 7));
graphics.push(yTitle(519, 1356, 'asynchr. EPSC charge [pC]'), text(702, 1527, 'stimulus'));

// ---- L
const gL = addGrid(1007, 1216, 265, 265);
xAx(gL, 0.272, 3.687, null);
yAx(gL, 120, 20, f0, 7, 2);
barsS(gL, lMean, lSem, ['#ff2a2a', '#8c8744', '#a81818'], [RED, '#8c8744', '#9b0c0c']);
dotsS(gL, 1, lTkoVals, lTkoJit, 13); dotsS(gL, 2, lC1Vals, lC1Jit, 13); dotsS(gL, 3, lC5Vals, lC5Jit, 13);
sig(1066, [1141, 1216], 1220, 1228, 1239, ['ns', '**'], [1210, 1215]);
groupLabels([1066, 1131, 1202], [1498, 1502, 1502], 1108, 1223, 1520, 1170, 1538);
graphics.push(yTitle(918, 1340, '40th asynchr.'), yTitle(942, 1337, 'EPSC charge [pC]'));

// minor ticks for D and E (extra y axes on the same left line)
[[gD, -0.0312, 0.6, dMinorTicks], [gE, -0.054, 1.2, eMinorTicks]].forEach(m => {
  yAxes.push({ type: 'value', gridIndex: m[0], position: 'left', offset: 0, min: m[1], max: m[2], splitLine: { show: false },
    axisLine: { show: false, onZero: false }, axisLabel: { show: false },
    axisTick: { show: true, length: 3, customValues: m[3], lineStyle: { color: INK, width: 1.4 } } });
});

// panel letters
graphics.push(letter(28, 22, 'A'), letter(488, 21, 'B'), letter(921, 21, 'C'));
graphics.push(letter(23, 415, 'D'), letter(487, 415, 'E'), letter(917, 415, 'F'));
graphics.push(letter(23, 805, 'G'), letter(490, 805, 'H'), letter(913, 805, 'I'));
graphics.push(letter(19, 1195, 'J'), letter(487, 1195, 'K'), letter(917, 1196, 'L'));

const chart = echarts.init(document.getElementById('main'), null, { renderer: 'canvas' });
chart.setOption({
  animation: false,
  backgroundColor: '#fff',
  textStyle: { fontFamily: FONT },
  grid: grids,
  xAxis: xAxes,
  yAxis: yAxes,
  series: series,
  graphic: { elements: graphics }
});
</script>
</body>
</html>
